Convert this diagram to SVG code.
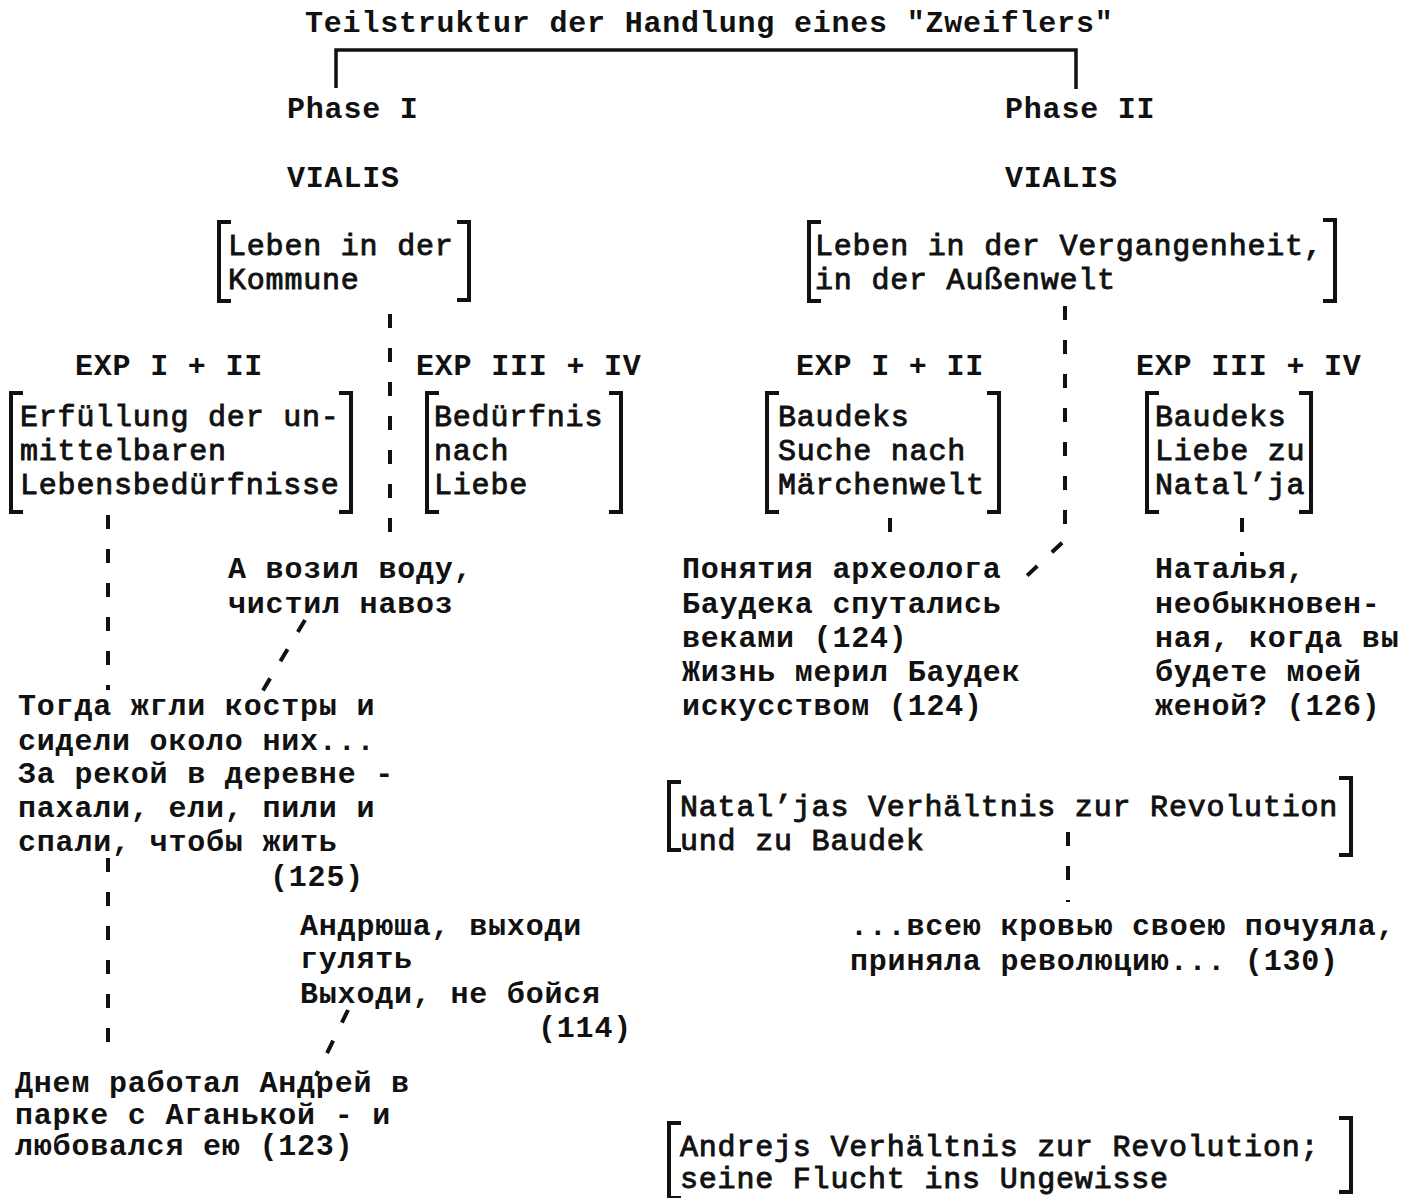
<svg xmlns="http://www.w3.org/2000/svg" width="1409" height="1198" viewBox="0 0 1409 1198">
<style>
text{font-family:"Liberation Mono","DejaVu Sans Mono",monospace;font-size:30px;letter-spacing:0.8px;fill:#111;}
.b{font-weight:bold;}
.n{font-weight:normal;stroke:#111;stroke-width:0.9px;}
.br{fill:none;stroke:#111;stroke-width:4;stroke-linejoin:miter;}
.d{fill:none;stroke:#111;stroke-width:4;stroke-dasharray:14 20;}
</style>
<rect width="1409" height="1198" fill="#fff"/>
<g id="title"><text class="b" x="305" y="32">Teilstruktur der Handlung eines "Zweiflers"</text></g>
<g id="phase1"><text class="b" x="287" y="118">Phase I</text></g>
<g id="phase2"><text class="b" x="1005" y="118">Phase II</text></g>
<g id="vialis1"><text class="b" x="287" y="187">VIALIS</text></g>
<g id="vialis2"><text class="b" x="1005" y="187">VIALIS</text></g>
<g id="kommune">
<path class="br" d="M231,222 H219 V301 H231"/><path class="br" d="M457,222 H469 V300 H457"/>
<text class="n" x="228" y="255">Leben in der</text><text class="n" x="228" y="289">Kommune</text></g>
<g id="vergangenheit">
<path class="br" d="M821,222 H809 V301 H821"/><path class="br" d="M1323,220 H1335 V301 H1323"/>
<text class="n" x="815" y="255">Leben in der Vergangenheit,</text><text class="n" x="815" y="289">in der Außenwelt</text></g>
<g id="exp1l"><text class="b" x="75" y="375">EXP I + II</text></g>
<g id="exp3l"><text class="b" x="416" y="375">EXP III + IV</text></g>
<g id="exp1r"><text class="b" x="796" y="375">EXP I + II</text></g>
<g id="exp3r"><text class="b" x="1136" y="375">EXP III + IV</text></g>
<g id="erfuellung">
<path class="br" d="M23,393 H11 V512 H23"/><path class="br" d="M339,393 H351 V512 H339"/>
<text class="n" x="20" y="426">Erfüllung der un-</text><text class="n" x="20" y="460">mittelbaren</text><text class="n" x="20" y="494">Lebensbedürfnisse</text></g>
<g id="beduerfnis">
<path class="br" d="M439,393 H427 V512 H439"/><path class="br" d="M609,393 H621 V512 H609"/>
<text class="n" x="434" y="426">Bedürfnis</text><text class="n" x="434" y="460">nach</text><text class="n" x="434" y="494">Liebe</text></g>
<g id="baudeks-suche">
<path class="br" d="M779,393 H767 V512 H779"/><path class="br" d="M987,393 H999 V512 H987"/>
<text class="n" x="778" y="426">Baudeks</text><text class="n" x="778" y="460">Suche nach</text><text class="n" x="778" y="494">Märchenwelt</text></g>
<g id="baudeks-liebe">
<path class="br" d="M1159,393 H1147 V512 H1159"/><path class="br" d="M1299,393 H1311 V512 H1299"/>
<text class="n" x="1155" y="426">Baudeks</text><text class="n" x="1155" y="460">Liebe zu</text><text class="n" x="1155" y="494">Natal’ja</text></g>
<g id="vozil"><text class="b" x="228" y="578">А возил воду,</text><text class="b" x="228" y="613">чистил навоз</text></g>
<g id="ponyatiya">
<text class="b" x="682" y="578">Понятия археолога</text><text class="b" x="682" y="613">Баудека спутались</text><text class="b" x="682" y="647">веками (124)</text><text class="b" x="682" y="681">Жизнь мерил Баудек</text><text class="b" x="682" y="715">искусством (124)</text></g>
<g id="natalya">
<text class="b" x="1155" y="578">Наталья,</text><text class="b" x="1155" y="613">необыкновен-</text><text class="b" x="1155" y="647">ная, когда вы</text><text class="b" x="1155" y="681">будете моей</text><text class="b" x="1155" y="715">женой? (126)</text></g>
<g id="kostry">
<text class="b" x="18" y="715">Тогда жгли костры и</text><text class="b" x="18" y="750">сидели около них...</text><text class="b" x="18" y="783">За рекой в деревне -</text><text class="b" x="18" y="817">пахали, ели, пили и</text><text class="b" x="18" y="851">спали, чтобы жить</text><text class="b" x="270" y="886">(125)</text></g>
<g id="natalja-rev">
<path class="br" d="M681,782 H669 V850 H681"/><path class="br" d="M1339,778 H1351 V855 H1339"/>
<text class="n" x="680" y="816">Natal’jas Verhältnis zur Revolution</text><text class="n" x="680" y="850">und zu Baudek</text></g>
<g id="andryusha">
<text class="b" x="300" y="935">Андрюша, выходи</text><text class="b" x="300" y="968">гулять</text><text class="b" x="300" y="1003">Выходи, не бойся</text><text class="b" x="538" y="1037">(114)</text></g>
<g id="krovyu">
<text class="b" x="850" y="935">...всею кровью своею почуяла,</text><text class="b" x="850" y="970">приняла революцию... (130)</text></g>
<g id="dnem">
<text class="b" x="15" y="1092">Днем работал Андрей в</text><text class="b" x="15" y="1124">парке с Аганькой - и</text><text class="b" x="15" y="1155">любовался ею (123)</text></g>
<g id="andrejs-rev">
<path class="br" d="M681,1123 H669 V1198 H681"/><path class="br" d="M1339,1118 H1351 V1192 H1339"/>
<text class="n" x="680" y="1156">Andrejs Verhältnis zur Revolution;</text><text class="n" x="680" y="1188">seine Flucht ins Ungewisse</text></g>
<g id="connectors">
<path class="br" d="M336,88 V50 H1076 V89" style="stroke-width:3.5"/>
<path class="d" d="M390,314 V552"/>
<path class="d" d="M1065,306 V540 L1015,587"/>
<path class="d" d="M108,515 V690"/>
<path class="d" d="M890,518 V550"/>
<path class="d" d="M1242,518 V556"/>
<path class="d" d="M305,620 L262,692"/>
<path class="d" d="M108,858 V1052"/>
<path class="d" d="M348,1010 L316,1076"/>
<path class="d" d="M1068,832 V902"/>
</g>
</svg>
